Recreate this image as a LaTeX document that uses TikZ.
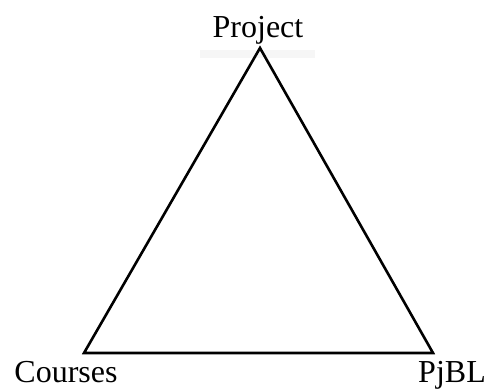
\documentclass[tikz,border=0pt]{standalone}
\usepackage{fontspec}
\setmainfont{Liberation Serif}
\begin{document}
\begin{tikzpicture}[x=1pt,y=-1pt,
  lbl/.style={font=\fontsize{32}{35}\selectfont, inner sep=0pt, anchor=base},
  edge/.style={line width=2.6pt, line join=miter}]
\useasboundingbox (0,0) rectangle (486,390);
\fill[gray!7] (200,50) rectangle (315,58);
\coordinate (P) at (260,48);
\coordinate (C) at (84,353);
\coordinate (J) at (433,353);
\draw[edge] (P) -- (C) -- (J) -- cycle;
\node[lbl] (tp) at (258,38) {Project};
\node[lbl] (tc) at (66,382) {Courses};
\node[lbl] (tj) at (452,382) {PjBL};
\end{tikzpicture}
\end{document}
